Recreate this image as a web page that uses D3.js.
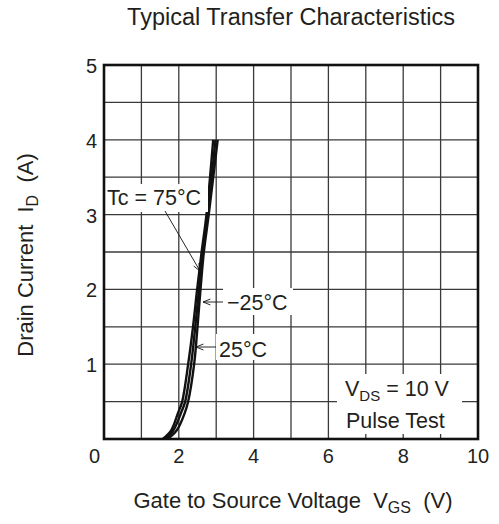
<!DOCTYPE html>
<html>
<head>
<meta charset="UTF-8">
<script src="https://d3js.org/d3.v7.min.js"></script>
<style>
  html, body { margin: 0; padding: 0; background: #fff; }
  text { font-family: "Liberation Sans", Arial, sans-serif; fill: #231f20; white-space: pre; }
</style>
</head>
<body>
<svg id="chart" width="499" height="524"></svg>
<script>
// --- data ---
const xTicks = [2, 4, 6, 8, 10];
const yTicks = [1, 2, 3, 4, 5];
const curve75 = [[1.57, 0], [1.8, 0.12], [1.98, 0.35], [2.09, 0.5], [2.25, 1.0], [2.38, 1.5], [2.49, 2.0], [2.61, 2.5], [2.74, 3.0], [2.92, 4.0]];
const curve25 = [[1.63, 0], [1.86, 0.12], [2.06, 0.35], [2.17, 0.5], [2.33, 1.0], [2.44, 1.5], [2.54, 2.0], [2.64, 2.5], [2.77, 3.0], [2.98, 4.0]];
const curveM25 = [[1.7, 0], [1.95, 0.12], [2.16, 0.35], [2.25, 0.5], [2.41, 1.0], [2.5, 1.5], [2.58, 2.0], [2.67, 2.5], [2.8, 3.0], [3.04, 4.0]];

// --- layout ---
const margin = { left: 104, top: 65 };
const w = 374, h = 374;
const svg = d3.select("#chart");
const x = d3.scaleLinear().domain([0, 10]).range([margin.left, margin.left + w]);
const y = d3.scaleLinear().domain([0, 5]).range([margin.top + h, margin.top]);

// grid
const grid = svg.append("g").attr("stroke", "#3a3a3a").attr("stroke-width", 1.3);
grid.selectAll("line.v").data(d3.range(1, 10)).enter().append("line")
  .attr("x1", d => x(d)).attr("x2", d => x(d))
  .attr("y1", y(0)).attr("y2", y(5));
grid.selectAll("line.h").data(d3.range(0.5, 5, 0.5)).enter().append("line")
  .attr("y1", d => y(d)).attr("y2", d => y(d))
  .attr("x1", x(0)).attr("x2", x(10));

// curves
const line = d3.line().x(d => x(d[0])).y(d => y(d[1])).curve(d3.curveCatmullRom.alpha(0.5));
svg.append("g").selectAll("path").data([curve75, curve25, curveM25]).enter().append("path")
  .attr("d", line).attr("fill", "none").attr("stroke", "#111").attr("stroke-width", 2.4);

// frame
svg.append("rect").attr("x", x(0)).attr("y", y(5)).attr("width", w).attr("height", h)
  .attr("fill", "none").attr("stroke", "#111").attr("stroke-width", 2.6);

// annotation boxes (white, covering grid)
function box(x0, y0, bw, bh) {
  svg.append("rect").attr("x", x0).attr("y", y0).attr("width", bw).attr("height", bh).attr("fill", "#fff");
}
function arrow(x1, y1, x2, y2) {
  svg.append("line").attr("x1", x1).attr("y1", y1).attr("x2", x2).attr("y2", y2)
    .attr("stroke", "#111").attr("stroke-width", 0.9);
  const a = Math.atan2(y2 - y1, x2 - x1), L = 8, s = 0.38;
  svg.append("path")
    .attr("d", `M${x2 - L * Math.cos(a - s)},${y2 - L * Math.sin(a - s)} L${x2},${y2} L${x2 - L * Math.cos(a + s)},${y2 - L * Math.sin(a + s)}`)
    .attr("fill", "none").attr("stroke", "#111").attr("stroke-width", 0.9);
}

const fs = 21.5;
box(106, 184, 102, 28);
svg.append("text").attr("x", 107).attr("y", 205).attr("font-size", fs).text("Tc = 75°C");
arrow(165, 211, 200, 271);

box(223, 288, 70, 27);
svg.append("text").attr("x", 227).attr("y", 310).attr("font-size", fs).text("\u221225°C");
arrow(223, 302, 203, 302);

box(216, 334, 56, 26);
svg.append("text").attr("x", 219).attr("y", 357).attr("font-size", fs).text("25°C");
arrow(216, 347, 196, 347);

box(337, 374, 125, 60);
const vds = svg.append("text").attr("x", 345).attr("y", 396).attr("font-size", fs);
vds.append("tspan").text("V");
vds.append("tspan").attr("font-size", 15).attr("dy", 5).text("DS");
vds.append("tspan").attr("dy", -5).text(" = 10 V");
svg.append("text").attr("x", 346).attr("y", 428).attr("font-size", fs).text("Pulse Test");

// tick labels
const tfs = 20;
svg.append("g").selectAll("text").data(xTicks).enter().append("text")
  .attr("x", d => x(d)).attr("y", 463).attr("text-anchor", "middle").attr("font-size", tfs)
  .text(d => d);
svg.append("g").selectAll("text").data(yTicks).enter().append("text")
  .attr("x", 97).attr("y", d => y(d) + 8).attr("text-anchor", "end").attr("font-size", tfs)
  .text(d => d);
svg.append("text").attr("x", 100).attr("y", 463).attr("text-anchor", "end").attr("font-size", tfs).text("0");

// titles
svg.append("text").attr("x", 291).attr("y", 25).attr("text-anchor", "middle").attr("font-size", 23.5)
  .text("Typical Transfer Characteristics");

const xt = svg.append("text").attr("x", 293).attr("y", 508).attr("text-anchor", "middle").attr("font-size", 22);
xt.append("tspan").text("Gate to Source Voltage  V");
xt.append("tspan").attr("font-size", 16).attr("dy", 5).text("GS");
xt.append("tspan").attr("dy", -5).text("  (V)");

const yt = svg.append("text").attr("transform", "translate(33,255) rotate(-90)")
  .attr("text-anchor", "middle").attr("font-size", 22);
yt.append("tspan").text("Drain Current  I");
yt.append("tspan").attr("font-size", 16).attr("dy", 5).text("D");
yt.append("tspan").attr("dy", -5).text("  (A)");
</script>
</body>
</html>
